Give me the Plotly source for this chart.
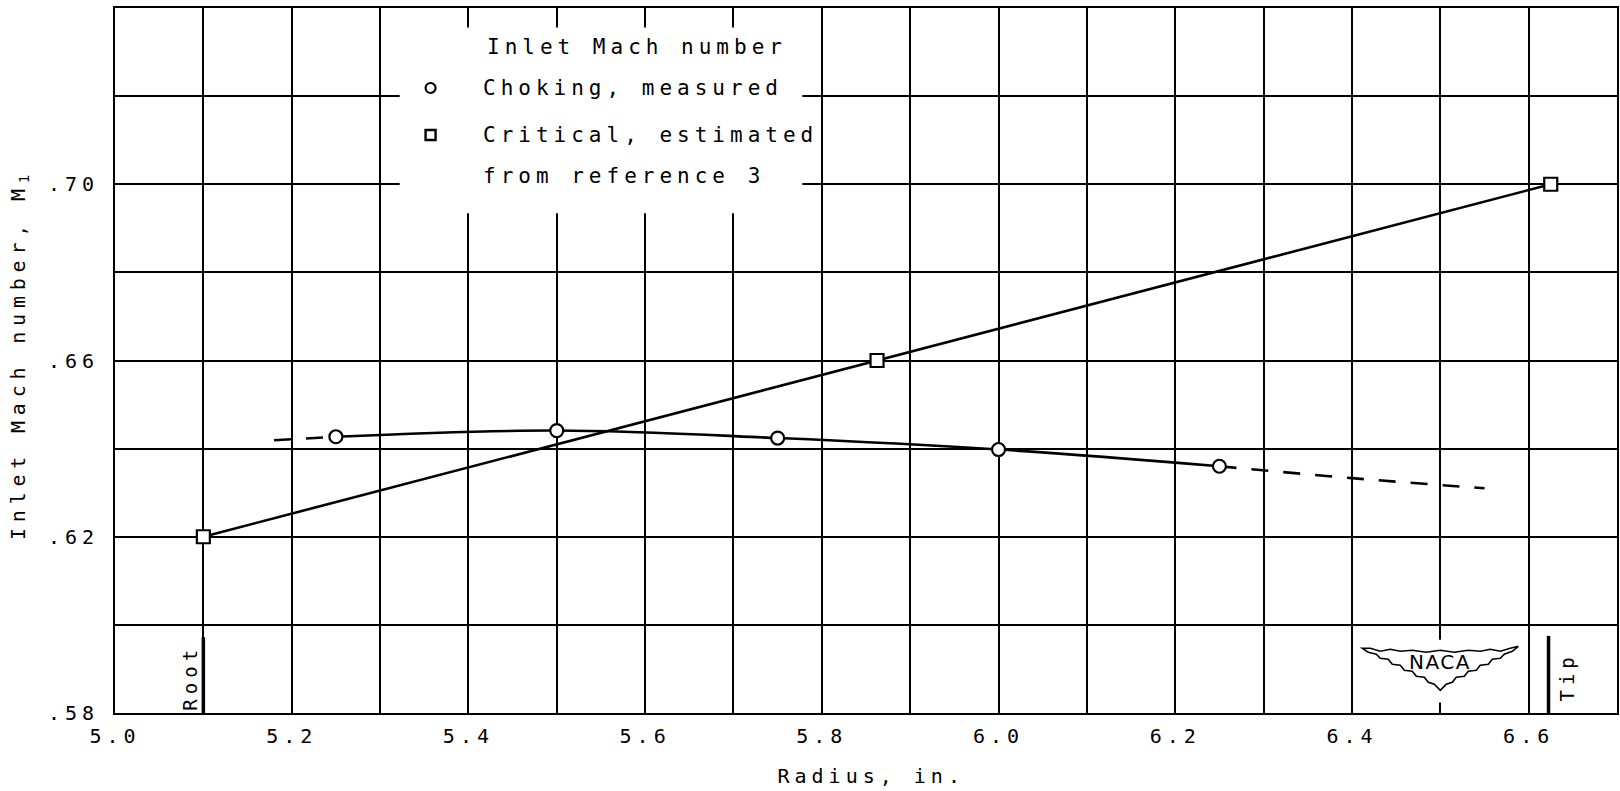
import plotly.graph_objects as go

# Choking Mach number, measured at five radii
choke_radius = [5.25, 5.50, 5.75, 6.00, 6.25]
choke_mach = [0.6427, 0.6441, 0.6424, 0.6398, 0.6360]

# Faired-curve extrapolations (dashed) toward hub and tip
choke_ext_hub_radius = [5.18, 5.25]
choke_ext_hub_mach = [0.6419, 0.6427]
choke_ext_tip_radius = [6.25, 6.40, 6.55]
choke_ext_tip_mach = [0.6360, 0.6333, 0.6310]

# Critical Mach number estimated at root, mean and tip radius
critical_radius = [5.10, 5.8625, 6.625]
critical_mach = [0.62, 0.66, 0.70]

root_radius = 5.10
tip_radius = 6.625

x_tick_vals = [5.0, 5.2, 5.4, 5.6, 5.8, 6.0, 6.2, 6.4, 6.6]
x_tick_text = ["5.0", "5.2", "5.4", "5.6", "5.8", "6.0", "6.2", "6.4", "6.6"]
y_tick_vals = [0.58, 0.62, 0.66, 0.70]
y_tick_text = [".58", ".62", ".66", ".70"]

key_title = "Inlet Mach number"
key_choke = "Choking, measured"
key_critical = ["Critical, estimated", "from reference 3"]

FONT = "DejaVu Sans Mono"
INK = "black"

# plot area in pixels (used for placing paper-referenced text)
L, T, W, H = 115, 8, 1504, 705


def px_x(p):
    return (p - L) / W


def px_y(p):
    return 1 - (p - T) / H


fig = go.Figure()

# faired choking curve
fig.add_trace(go.Scatter(x=choke_radius, y=choke_mach, mode="lines",
                         line=dict(color=INK, width=2.6, shape="spline", smoothing=1.0),
                         showlegend=False, hoverinfo="skip"))
fig.add_trace(go.Scatter(x=choke_ext_hub_radius, y=choke_ext_hub_mach, mode="lines",
                         line=dict(color=INK, width=2.6, dash="17px,15px"),
                         showlegend=False, hoverinfo="skip"))
fig.add_trace(go.Scatter(x=choke_ext_tip_radius, y=choke_ext_tip_mach, mode="lines",
                         line=dict(color=INK, width=2.6, dash="17px,15px", shape="spline"),
                         showlegend=False, hoverinfo="skip"))
# critical line
fig.add_trace(go.Scatter(x=critical_radius, y=critical_mach, mode="lines",
                         line=dict(color=INK, width=2.6),
                         showlegend=False, hoverinfo="skip"))

# data symbols
fig.add_trace(go.Scatter(x=choke_radius, y=choke_mach, mode="markers",
                         name=key_choke, showlegend=False,
                         marker=dict(symbol="circle", size=13, color="white",
                                     line=dict(color=INK, width=2.2))))
fig.add_trace(go.Scatter(x=critical_radius, y=critical_mach, mode="markers",
                         name=" ".join(key_critical), showlegend=False,
                         marker=dict(symbol="square", size=13, color="white",
                                     line=dict(color=INK, width=2.2))))

shapes = []
# white panel behind the key
shapes.append(dict(type="rect", xref="x", yref="y", x0=5.3222, x1=5.7779,
                   y0=0.6934, y1=0.7356, fillcolor="white", line=dict(width=0),
                   layer="above"))
# key symbols
shapes.append(dict(type="circle", xref="paper", yref="paper", xsizemode="pixel",
                   ysizemode="pixel", xanchor=px_x(431), yanchor=px_y(88),
                   x0=-5, x1=5, y0=-5, y1=5, line=dict(color=INK, width=2.2),
                   fillcolor="white", layer="above"))
shapes.append(dict(type="rect", xref="paper", yref="paper", xsizemode="pixel",
                   ysizemode="pixel", xanchor=px_x(431), yanchor=px_y(135),
                   x0=-5, x1=5, y0=-5, y1=5, line=dict(color=INK, width=2.4),
                   fillcolor="white", layer="above"))
# root and tip markers
shapes.append(dict(type="line", xref="x", yref="y", x0=root_radius, x1=root_radius,
                   y0=0.58, y1=0.5972, line=dict(color=INK, width=3.5), layer="above"))
shapes.append(dict(type="line", xref="x", yref="y", x0=tip_radius - 0.0025, x1=tip_radius - 0.0025,
                   y0=0.58, y1=0.5975, line=dict(color=INK, width=3.5), layer="above"))

# NACA wing emblem: white panel then outline (pixel offsets, y up)
shapes.append(dict(type="rect", xref="x", yref="y", x0=6.41, x1=6.59,
                   y0=0.5824, y1=0.5966, fillcolor="white", line=dict(width=0),
                   layer="above"))
top_edge = [(-78, 18), (-70, 18), (-60, 15), (-50, 17), (-40, 15), (-28, 16), (-14, 14),
            (0, 16), (14, 14), (28, 16), (40, 15), (50, 17), (60, 15), (70, 18), (78, 20)]
bottom_edge = [(72, 15), (64, 12), (60, 8), (52, 7), (48, 2), (40, 1), (36, -4), (28, -5),
               (24, -10), (16, -11), (12, -16), (6, -18), (0, -24), (-6, -18), (-12, -16),
               (-16, -11), (-24, -10), (-28, -5), (-36, -4), (-40, 1), (-48, 2), (-52, 7),
               (-60, 8), (-64, 12), (-72, 14)]
pts = top_edge + bottom_edge
wing_path = "M " + " L ".join(f"{dx},{dy}" for dx, dy in pts) + " Z"
shapes.append(dict(type="path", xref="x", yref="y", xsizemode="pixel", ysizemode="pixel",
                   xanchor=6.5, yanchor=0.5906, path=wing_path,
                   fillcolor="white", line=dict(color=INK, width=1.6), layer="above"))

key_font = dict(family=FONT, size=21, color=INK)


def key_line(text, x, y):
    return dict(text=text, xref="paper", yref="paper", x=px_x(x), y=px_y(y),
                xanchor="left", yanchor="middle", align="left",
                showarrow=False, font=key_font)


annotations = [
    key_line(key_title, 485, 47),
    key_line(key_choke, 481, 88),
    key_line(key_critical[0], 481, 135),
    key_line(key_critical[1], 481, 176),
    dict(text="Radius, in.", xref="paper", yref="paper",
         x=px_x(872), y=px_y(776), xanchor="center", yanchor="middle",
         showarrow=False, font=dict(family=FONT, size=20, color=INK)),
    dict(text="Inlet Mach number, M<sub>1</sub>", xref="paper", yref="paper",
         x=px_x(19), y=px_y(355), xanchor="center", yanchor="middle",
         textangle=-90, showarrow=False, font=dict(family=FONT, size=20, color=INK)),
    dict(text="Root", xref="x", yref="y", x=root_radius, y=0.5881, xshift=-13,
         textangle=-90, showarrow=False, font=dict(family=FONT, size=19, color=INK)),
    dict(text="Tip", xref="x", yref="y", x=tip_radius, y=0.5881, xshift=17,
         textangle=-90, showarrow=False, font=dict(family=FONT, size=19, color=INK)),
    dict(text="NACA", xref="x", yref="y", x=6.5, y=0.5906, yshift=4,
         showarrow=False, font=dict(family="DejaVu Sans", size=20, color=INK)),
]

fig.update_layout(
    width=1620, height=791,
    margin=dict(l=L, r=1620 - L - W, t=T, b=791 - T - H),
    paper_bgcolor="white", plot_bgcolor="white",
    font=dict(family=FONT, size=20, color=INK),
    shapes=shapes, annotations=annotations,
    showlegend=False,
    xaxis=dict(range=[5.0, 6.7], tickvals=x_tick_vals, ticktext=x_tick_text,
               showgrid=True, gridcolor=INK, gridwidth=1.6,
               minor=dict(dtick=0.1, tick0=5.0, showgrid=True, gridcolor=INK, gridwidth=1.6),
               showline=True, linecolor=INK, linewidth=2, mirror=True,
               ticks="", zeroline=False, ticklabelstandoff=4,
               tickfont=dict(family=FONT, size=20, color=INK)),
    yaxis=dict(range=[0.58, 0.74], tickvals=y_tick_vals, ticktext=y_tick_text,
               showgrid=True, gridcolor=INK, gridwidth=1.6,
               minor=dict(dtick=0.02, tick0=0.58, showgrid=True, gridcolor=INK, gridwidth=1.6),
               showline=True, linecolor=INK, linewidth=2, mirror=True,
               ticks="", zeroline=False, ticklabelstandoff=10,
               tickfont=dict(family=FONT, size=20, color=INK)),
)

# wide lettering, as on the drafted original
spacing_js = """
document.querySelectorAll('.main-svg text').forEach(function (t) {
  var s = t.textContent;
  var ls = '5px';
  if (s === 'NACA') ls = '1.5px';
  else if (s.indexOf('Inlet Mach number,') === 0) ls = '5.8px';
  t.style.letterSpacing = ls;
});
"""
fig.write_html("out.html", post_script=spacing_js)
